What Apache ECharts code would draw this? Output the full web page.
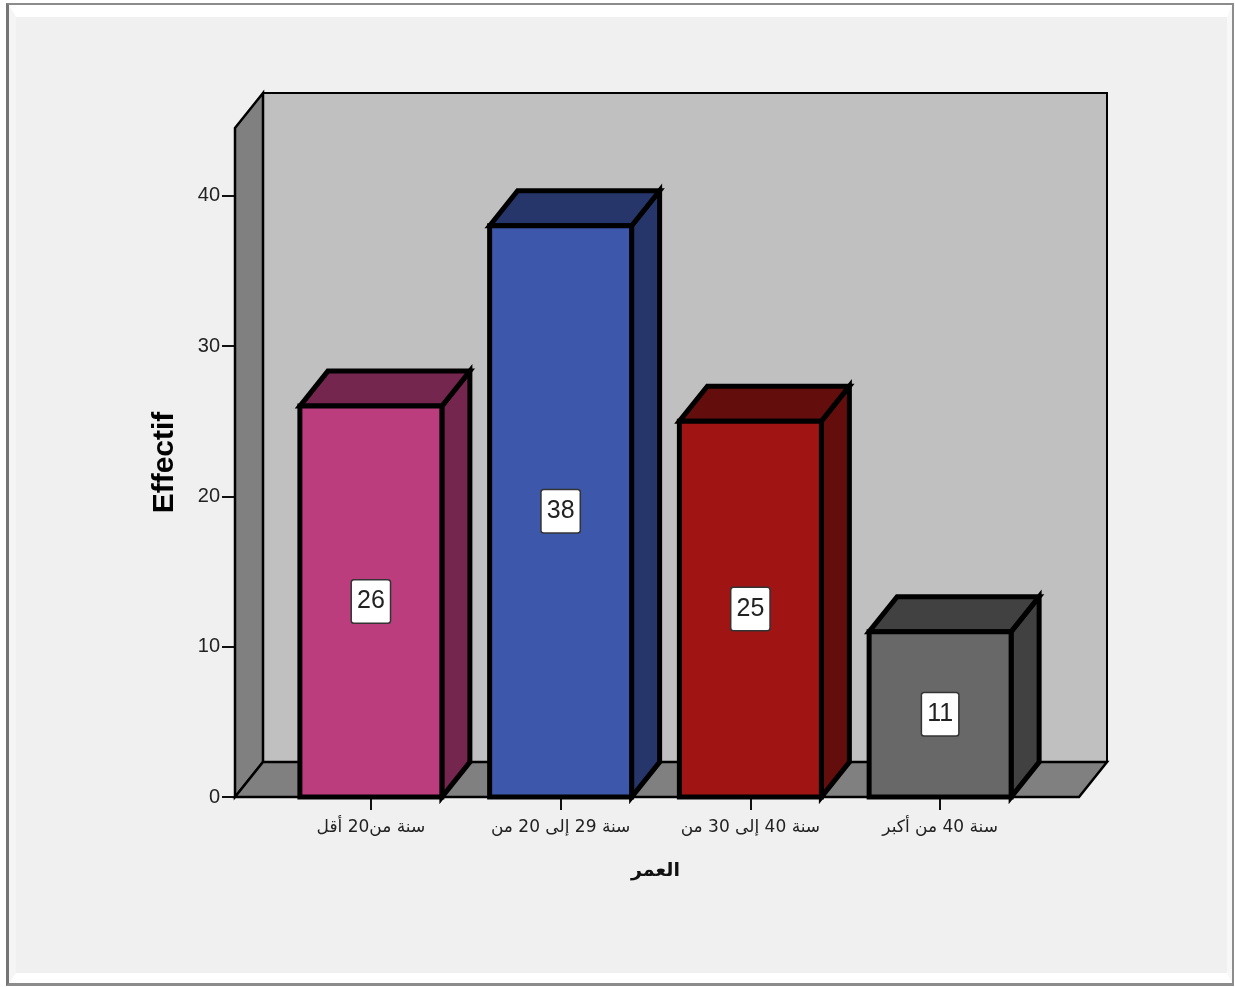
<!DOCTYPE html>
<html>
<head>
<meta charset="utf-8">
<style>
html,body{margin:0;padding:0;background:#fff;}
#frame{position:absolute;left:6px;top:3px;width:1228px;height:983px;box-sizing:border-box;outline:0;
  border-style:solid;border-width:2px 2px 3px 3px;border-color:#8c8c8c #8c8c8c #8c8c8c #757575;}
#panel{position:absolute;inset:0;box-sizing:border-box;background:#f0f0f0;
  border-style:solid;border-width:12px 5px 10px 7px;border-color:#fff #f8f8f8 #fff #f5f5f5;}
#chart{position:absolute;left:0;top:0;width:1235px;height:987px;}
</style>
</head>
<body>
<div id="frame"><div id="panel"></div></div>
<div id="chart"></div>
<script src="https://cdn.jsdelivr.net/npm/echarts@6/dist/echarts.min.js"></script>
<script>
// Age group counts
const categories = ['سنة من20 أقل', 'سنة 29 إلى 20 من', 'سنة 40 إلى 30 من', 'سنة 40 من أكبر'];
const counts = [26, 38, 25, 11];
const frontColors = ['#bb3d7e', '#3d57aa', '#a01414', '#686868'];
const sideColors = ['#74264e', '#26366b', '#640d0d', '#414141'];
const yTicks = [0, 10, 20, 30, 40];
const yMax = 44.5;

const DEPTH_X = 28, DEPTH_Y = -35, BAR_WIDTH = 142, OUTLINE = 5;
const WALL_LEFT = 41, WALL_RIGHT = 44;

const chart = echarts.init(document.getElementById('chart'), null, {renderer: 'canvas'});

function poly(points, fill, lineWidth) {
  return {
    type: 'polygon',
    shape: {points},
    style: {fill, stroke: '#000', lineWidth, lineJoin: 'miter'}
  };
}

// Back wall, side wall and floor of the 3D box
function renderWalls(params) {
  const cs = params.coordSys;
  const l = cs.x - WALL_LEFT, r = cs.x + cs.width + WALL_RIGHT;
  const b = cs.y + cs.height, t = cs.y;
  const dx = DEPTH_X, dy = DEPTH_Y;
  return {
    type: 'group',
    children: [
      poly([[l + dx, t + dy], [r + dx, t + dy], [r + dx, b + dy], [l + dx, b + dy]], '#c0c0c0', 2),
      poly([[l, t], [l + dx, t + dy], [l + dx, b + dy], [l, b]], '#808080', 2.5),
      poly([[l, b], [l + dx, b + dy], [r + dx, b + dy], [r, b]], '#808080', 2.5)
    ]
  };
}

// One extruded bar: side face, top face, then front face
function renderBar(params, api) {
  const i = api.value(0);
  const base = api.coord([i, 0]);
  const top = api.coord([i, api.value(1)]);
  const x0 = base[0] - BAR_WIDTH / 2, x1 = base[0] + BAR_WIDTH / 2;
  const y0 = top[1], y1 = base[1];
  const dx = DEPTH_X, dy = DEPTH_Y;
  return {
    type: 'group',
    children: [
      poly([[x1, y0], [x1 + dx, y0 + dy], [x1 + dx, y1 + dy], [x1, y1]], sideColors[i], OUTLINE),
      poly([[x0, y0], [x0 + dx, y0 + dy], [x1 + dx, y0 + dy], [x1, y0]], sideColors[i], OUTLINE),
      poly([[x0, y0], [x1, y0], [x1, y1], [x0, y1]], frontColors[i], OUTLINE)
    ]
  };
}

chart.setOption({
  animation: false,
  backgroundColor: 'transparent',
  grid: {left: 276, width: 759, top: 128, height: 669},
  xAxis: {
    type: 'category',
    data: categories,
    name: 'العمر',
    nameLocation: 'middle',
    nameGap: 65,
    nameTextStyle: {fontFamily: 'DejaVu Sans', fontSize: 19, fontWeight: 'bold', color: '#111'},
    axisLine: {show: false},
    axisTick: {show: true, alignWithLabel: true, length: 13, lineStyle: {color: '#111', width: 2}},
    axisLabel: {fontFamily: 'DejaVu Sans', fontSize: 17, color: '#222', margin: 22, interval: 0},
    splitLine: {show: false}
  },
  yAxis: {
    type: 'value',
    min: 0,
    max: yMax,
    interval: 10,
    offset: 41,
    name: 'Effectif',
    nameLocation: 'middle',
    nameGap: 55,
    nameTextStyle: {fontFamily: 'Liberation Sans', fontSize: 30, fontWeight: 'bold', color: '#000'},
    axisLine: {show: false},
    axisTick: {show: true, length: 13, customValues: yTicks, lineStyle: {color: '#111', width: 2}},
    axisLabel: {fontFamily: 'Liberation Sans', fontSize: 20, color: '#222', margin: 15,
      padding: [4, 0, 0, 0], customValues: yTicks},
    splitLine: {show: false}
  },
  series: [
    {
      type: 'custom',
      coordinateSystem: 'cartesian2d',
      renderItem: renderWalls,
      data: [[0, 0]],
      silent: true,
      z: 1,
      clip: false
    },
    {
      type: 'custom',
      coordinateSystem: 'cartesian2d',
      renderItem: renderBar,
      encode: {x: 0, y: 1},
      data: counts.map((v, i) => [i, v]),
      z: 2,
      clip: false
    },
    {
      // Value tags centred on the front face of each bar
      type: 'scatter',
      symbolSize: 0,
      itemStyle: {opacity: 1},
      data: counts.map((v, i) => [i, v / 2]),
      z: 5,
      label: {
        show: true,
        position: 'inside',
        opacity: 1,
        formatter: p => String(counts[p.dataIndex]),
        backgroundColor: '#fff',
        borderColor: '#333',
        borderWidth: 1.5,
        borderRadius: 2,
        padding: [11, 5, 6, 5],
        fontFamily: 'Liberation Sans',
        fontSize: 25,
        color: '#222'
      }
    }
  ]
});
</script>
</body>
</html>
